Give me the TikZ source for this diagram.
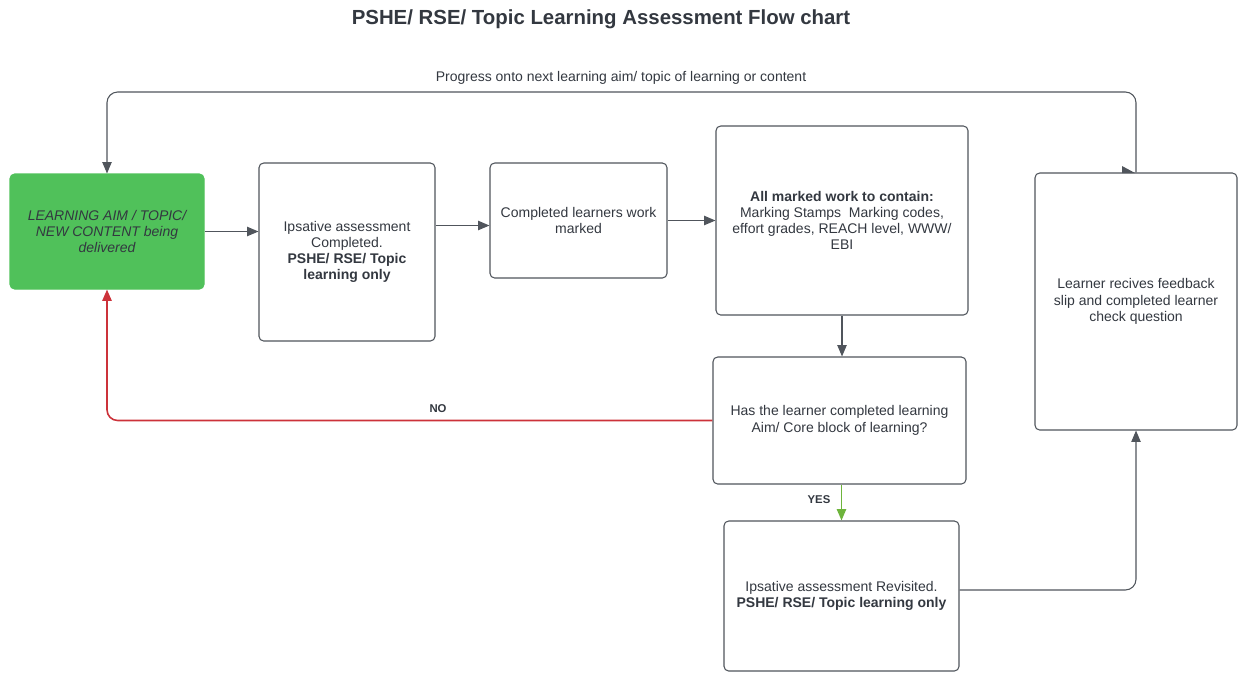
\documentclass[tikz,border=0pt]{standalone}
\usepackage{fontspec}
\setmainfont{Liberation Sans}
\usetikzlibrary{arrows.meta}
\definecolor{txt}{RGB}{51,56,64}
\definecolor{ln}{RGB}{80,85,92}
\definecolor{gfill}{RGB}{80,193,90}
\definecolor{redl}{RGB}{204,50,58}
\definecolor{greenl}{RGB}{110,180,60}
\tikzset{
  box/.style={draw=ln, line width=0.8pt, rounded corners=3.5pt, fill=white, align=center,
    text=txt, font=\fontsize{10.5}{12.2}\selectfont, inner sep=2pt},
  arr/.style={draw=ln, line width=0.8pt, -{Triangle[length=8.5pt,width=7pt]}},
  lbl/.style={text=txt, font=\fontsize{8.5}{10}\selectfont\bfseries},
}
\begin{document}
\begin{tikzpicture}[x=0.75pt,y=-0.75pt]
\useasboundingbox (0,0) rectangle (1241,672);
\node[text=txt, font=\fontsize{15.3}{18}\selectfont\bfseries] (title) at (601,19) {PSHE/ RSE/ Topic Learning Assessment Flow chart};
\node[text=txt, font=\fontsize{10.5}{12}\selectfont] (prog) at (621,78) {Progress onto next learning aim/ topic of learning or content};

\node[box, draw=gfill, fill=gfill, minimum width=145.5pt, minimum height=86.25pt, font=\fontsize{10.5}{12.2}\selectfont\itshape] (green) at (107,231.5)
  {LEARNING AIM / TOPIC/\\NEW CONTENT being\\delivered};
\node[box, minimum width=132pt, minimum height=133.5pt] (ips) at (347,252)
  {Ipsative assessment\\Completed.\\\textbf{PSHE/ RSE/ Topic}\\\textbf{learning only}};
\node[box, minimum width=132.75pt, minimum height=86.25pt] (comp) at (578.5,220.5)
  {Completed learners work\\marked};
\node[box, minimum width=189pt, minimum height=141.75pt] (mark) at (842,220.5)
  {\textbf{All marked work to contain:}\\Marking Stamps\ \ Marking codes,\\effort grades, REACH level, WWW/\\EBI};
\node[box, minimum width=189.75pt, minimum height=95.25pt] (dec) at (839.5,420.5)
  {Has the learner completed learning\\Aim/ Core block of learning?};
\node[box, minimum width=176.25pt, minimum height=112.5pt] (rev) at (841.5,596)
  {Ipsative assessment Revisited.\\\textbf{PSHE/ RSE/ Topic learning only}};
\node[box, minimum width=151.5pt, minimum height=192.75pt] (right) at (1136,301.5)
  {Learner recives feedback\\slip and completed learner\\check question};

\coordinate (top) at (621,92);

\draw[arr] (green.east) -- (ips.west |- green.east);
\draw[arr] (ips.east |- 0,225.5) -- (comp.west |- 0,225.5);
\draw[arr] (comp.east) -- (mark.west |- comp.east);
\draw[arr] (mark.south) -- (mark.south |- dec.north);
\draw[arr, draw=redl, line width=1.2pt, rounded corners=8pt] (dec.west) -| (green.south);
\node[lbl] (no) at (438,409) {NO};
\draw[arr, draw=greenl, line width=1pt] (rev.north |- dec.south) -- (rev.north);
\node[lbl] (yes) at (819,500) {YES};
\draw[arr, rounded corners=8pt] (rev.east |- 0,590) -| (right.south);
\draw[arr, rounded corners=8pt] (right.north) |- (top) -| (green.north);
\fill[ln] (1122,166) -- (1135,173) -- (1122,173) -- cycle;
\end{tikzpicture}
\end{document}
